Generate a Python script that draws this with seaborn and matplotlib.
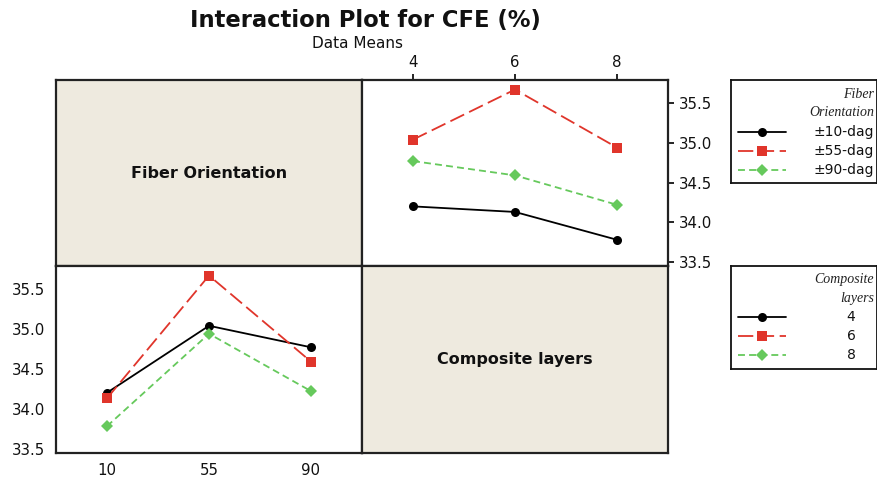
import matplotlib
matplotlib.use("Agg")
import matplotlib.pyplot as plt
from matplotlib.lines import Line2D
import pandas as pd
import seaborn as sns

# Factor levels
fiber_levels = [10, 55, 90]
fiber_labels = ["±10-dag", "±55-dag", "±90-dag"]
layer_levels = [4, 6, 8]
layer_labels = ["4", "6", "8"]

# Mean CFE (%) of each fiber orientation at 4, 6 and 8 composite layers
cfe_fiber_10 = [34.20, 34.13, 33.78]
cfe_fiber_55 = [35.04, 35.67, 34.94]
cfe_fiber_90 = [34.77, 34.59, 34.22]

y_ticks = [33.5, 34.0, 34.5, 35.0, 35.5]

rows = []
for f, vals in zip(fiber_levels, [cfe_fiber_10, cfe_fiber_55, cfe_fiber_90]):
    for l, v in zip(layer_levels, vals):
        rows.append({"fiber": f, "layers": l, "cfe": v})
df = pd.DataFrame(rows)

sns.set_theme(style="white")
plt.rcParams["font.family"] = ["DejaVu Sans"]
plt.rcParams["lines.scale_dashes"] = False

colors = ["#000000", "#E0352B", "#66C95C"]
markers = ["o", "s", "D"]
linestyles = ["-", (0, (11, 4)), (0, (5, 3))]
msizes = [6.5, 7.0, 6.5]
panel_bg = "#EEEADF"

W, H = 878, 478
fig = plt.figure(figsize=(W / 100, H / 100), dpi=100)


def box(x0, y0, x1, y1):
    return [x0 / W, 1 - y1 / H, (x1 - x0) / W, (y1 - y0) / H]


ax_tl = fig.add_axes(box(56, 80, 362, 266))
ax_tr = fig.add_axes(box(362, 80, 668, 266))
ax_bl = fig.add_axes(box(56, 266, 362, 452.5))
ax_br = fig.add_axes(box(362, 266, 668, 452.5))

ylim = (33.45, 35.79)


def style_lines(ax):
    for line, ms in zip(ax.lines, msizes):
        line.set_markersize(ms)
        line.set_markeredgewidth(0)


# Fiber orientation traced across composite layers
sns.pointplot(data=df, x="layers", y="cfe", hue="fiber", order=layer_levels,
              hue_order=fiber_levels, palette=colors, markers=markers,
              linestyles=linestyles, errorbar=None, legend=False,
              linewidth=1.3, ax=ax_tr)
style_lines(ax_tr)

# Composite layers traced across fiber orientation
sns.pointplot(data=df, x="fiber", y="cfe", hue="layers", order=fiber_levels,
              hue_order=layer_levels, palette=colors, markers=markers,
              linestyles=linestyles, errorbar=None, legend=False,
              linewidth=1.3, ax=ax_bl)
style_lines(ax_bl)

for ax in (ax_tr, ax_bl):
    ax.set_xlim(-0.5, 2.5)
    ax.set_ylim(*ylim)
    ax.set_yticks(y_ticks, [f"{t:.1f}" for t in y_ticks])
    ax.set_xlabel("")
    ax.set_ylabel("")
    ax.tick_params(direction="out", length=4.5, width=1.2, color="black",
                   labelsize=10.8, labelcolor="#111111", pad=3)

ax_tr.xaxis.tick_top()
ax_tr.yaxis.tick_right()
ax_tr.set_xticks(range(3), layer_labels)
ax_bl.set_xticks(range(3), [str(v) for v in fiber_levels])

for ax, label in ((ax_tl, "Fiber Orientation"), (ax_br, "Composite layers")):
    ax.set_facecolor(panel_bg)
    ax.set_xticks([])
    ax.set_yticks([])
    ax.text(0.5, 0.5, label, transform=ax.transAxes, ha="center", va="center",
            fontsize=11.5, fontweight="bold", color="#111111")

for ax in (ax_tl, ax_tr, ax_bl, ax_br):
    for sp in ax.spines.values():
        sp.set_color("#222222")
        sp.set_linewidth(1.6)
        sp.set_visible(True)

fig.text(365 / W, 1 - 20 / H, "Interaction Plot for CFE (%)", ha="center",
         va="center", fontsize=16.3, fontweight="bold", color="#111111")
fig.text(358 / W, 1 - 43 / H, "Data Means", ha="center", va="center",
         fontsize=11, color="#111111")


def legend_box(rect, title_lines, labels, label_x, label_ha, title_ys, entry_ys):
    lax = fig.add_axes(rect)
    lax.set_xlim(0, 146)
    lax.set_ylim(103, 0)
    lax.set_xticks([])
    lax.set_yticks([])
    lax.set_facecolor("white")
    for sp in lax.spines.values():
        sp.set_color("#111111")
        sp.set_linewidth(1.3)
    for t, y in zip(title_lines, title_ys):
        lax.text(143, y, t, ha="right", va="center", fontsize=10,
                 style="italic", family=["Liberation Serif"], color="#222222")
    for i, (lab, y) in enumerate(zip(labels, entry_ys)):
        lax.add_line(Line2D([7, 31, 55], [y, y, y], color=colors[i],
                            linestyle=linestyles[i], linewidth=1.3,
                            marker=markers[i], markevery=[1],
                            markersize=msizes[i], markeredgewidth=0))
        lax.text(label_x, y, lab, ha=label_ha, va="center", fontsize=10,
                 color="#111111")
    return lax


legend_box(box(731, 80, 877, 183), ["Fiber", "Orientation"], fiber_labels,
           143, "right", [14, 33], [51.7, 70.7, 90])
legend_box(box(731, 266, 877, 368.5), ["Composite", "layers"], layer_labels,
           120, "center", [13.5, 32.5], [51, 70, 89.3])

fig.savefig("out.png", dpi=100)
